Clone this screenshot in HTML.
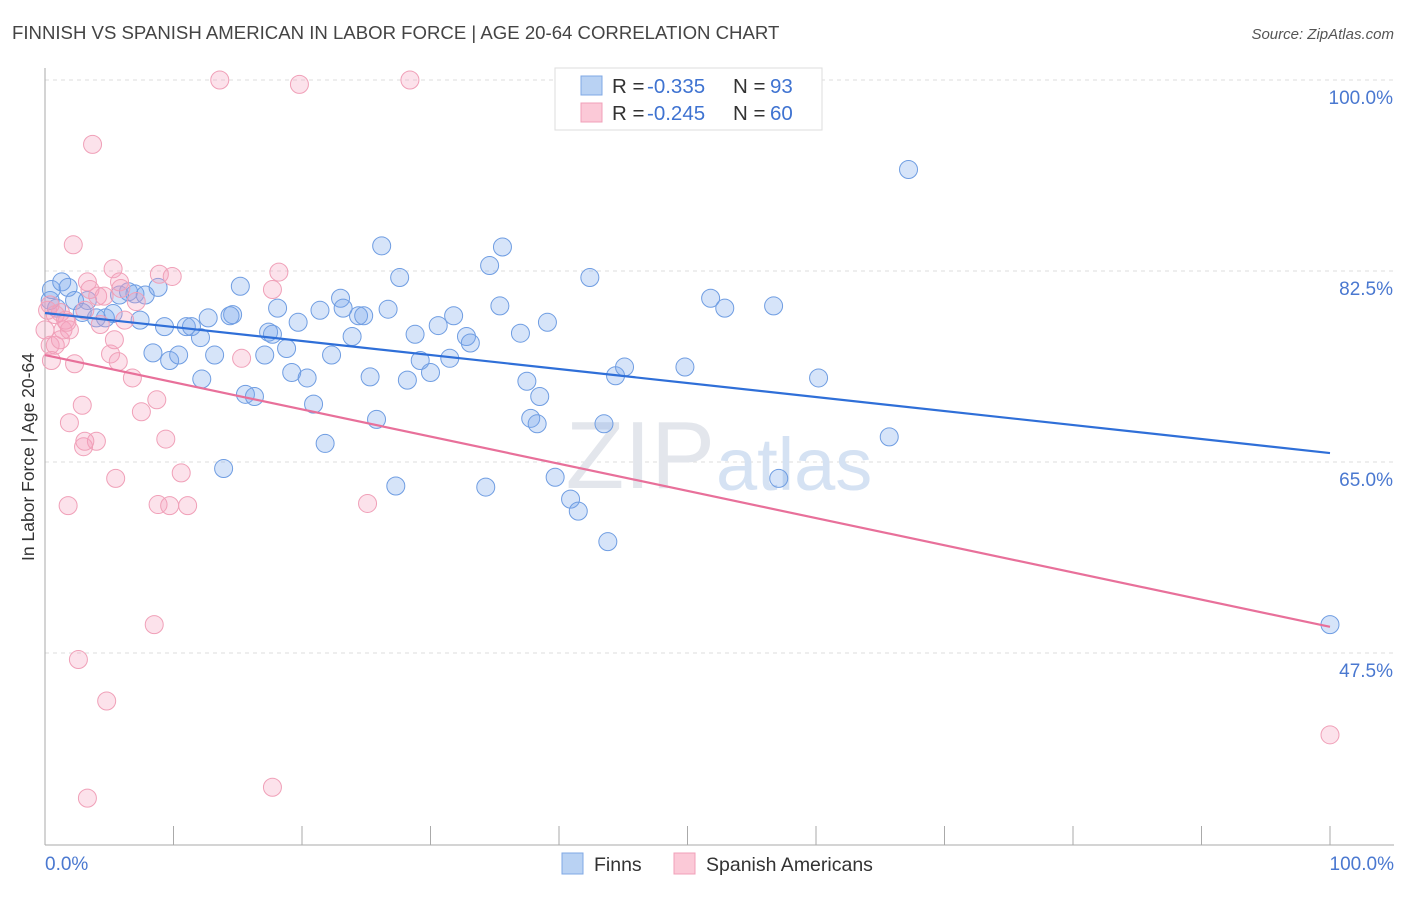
<!DOCTYPE html>
<html><head><meta charset="utf-8"><style>
body{margin:0;background:#fff;}
svg text{font-family:"Liberation Sans",sans-serif;}
</style></head><body>
<svg width="1406" height="892" xmlns="http://www.w3.org/2000/svg">
<text x="12" y="39" font-size="18.6" fill="#444">FINNISH VS SPANISH AMERICAN IN LABOR FORCE | AGE 20-64 CORRELATION CHART</text>
<text x="1394" y="39" font-size="15" fill="#555" font-style="italic" text-anchor="end">Source: ZipAtlas.com</text>
<g id="grid"></g>
<text x="715" y="488" font-size="96" fill="#e3e6ec" text-anchor="end" font-family="Liberation Serif">ZIP</text>
<text x="716" y="490" font-size="74" fill="#d5e2f3">atlas</text>
<line x1="45" y1="68" x2="45" y2="845" stroke="#aaa"/>
<line x1="45" y1="845" x2="1394" y2="845" stroke="#aaa"/>
<g id="xticks"></g>
<g id="points"></g>
<g id="lines"></g>
<text transform="translate(34,457) rotate(-90)" font-size="17.5" fill="#333" text-anchor="middle">In Labor Force | Age 20-64</text>
<text x="45" y="870" font-size="19" fill="#4a78d0">0.0%</text>
<text x="1394" y="870" font-size="19" fill="#4a78d0" text-anchor="end">100.0%</text>
<g>
<rect x="555" y="68" width="267" height="62" fill="#fff" stroke="#ddd"/>
<rect x="581" y="76" width="21" height="19" fill="#b9d2f3" stroke="#7fa8e4"/>
<text x="612" y="93" font-size="20.5" fill="#333">R = </text><text x="647" y="93" font-size="20.5" fill="#3f73d1">-0.335</text>
<text x="733" y="93" font-size="20.5" fill="#333">N = </text><text x="770" y="93" font-size="20.5" fill="#3f73d1">93</text>
<rect x="581" y="103" width="21" height="19" fill="#fbc9d7" stroke="#f0a0b8"/>
<text x="612" y="120" font-size="20.5" fill="#333">R = </text><text x="647" y="120" font-size="20.5" fill="#3f73d1">-0.245</text>
<text x="733" y="120" font-size="20.5" fill="#333">N = </text><text x="770" y="120" font-size="20.5" fill="#3f73d1">60</text>
</g>
<g>
<rect x="562" y="853" width="21" height="21" fill="#b9d2f3" stroke="#7fa8e4"/>
<text x="594" y="871" font-size="19.5" fill="#333">Finns</text>
<rect x="674" y="853" width="21" height="21" fill="#fbc9d7" stroke="#f0a0b8"/>
<text x="706" y="871" font-size="19.5" fill="#333">Spanish Americans</text>
</g>
</svg>
<script>
const yTicks=[100,82.5,65,47.5];
const yTickLabels=["100.0%","82.5%","65.0%","47.5%"];
const xTicks=[0,10,20,30,40,50,60,70,80,90,100];
const finnsX=[0.4,0.5,1.3,1.8,0.9,2.3,3.3,2.9,4.0,4.7,5.3,5.8,6.5,7.0,7.8,8.8,7.4,9.3,8.4,9.7,10.4,11.0,11.4,12.1,12.7,13.2,12.2,13.9,14.6,15.2,14.4,15.6,16.3,17.1,17.4,17.7,18.1,18.8,19.2,19.7,20.4,20.9,21.4,21.8,22.3,23.0,23.2,23.9,24.4,24.8,25.3,25.8,26.2,26.7,27.3,27.6,28.2,28.8,29.2,30.0,30.6,31.5,31.8,32.8,33.1,34.3,34.6,35.6,35.4,37.0,37.5,37.8,38.3,38.5,39.1,39.7,40.9,41.5,42.4,43.5,43.8,44.4,45.1,49.8,51.8,52.9,56.7,57.1,60.2,65.7,67.2,100,46.8];
const finnsY=[79.8,80.8,81.5,81.0,79.1,79.8,79.8,78.7,78.2,78.2,78.6,80.3,80.6,80.4,80.3,81.0,78.0,77.4,75.0,74.3,74.8,77.4,77.4,76.4,78.2,74.8,72.6,64.4,78.5,81.1,78.4,71.2,71.0,74.8,76.9,76.7,79.1,75.4,73.2,77.8,72.7,70.3,78.9,66.7,74.8,80.0,79.1,76.5,78.4,78.4,72.8,68.9,84.8,79.0,62.8,81.9,72.5,76.7,74.3,73.2,77.5,74.5,78.4,76.5,75.9,62.7,83.0,84.7,79.3,76.8,72.4,69.0,68.5,71.0,77.8,63.6,61.6,60.5,81.9,68.5,57.7,72.9,73.7,73.7,80.0,79.1,79.3,63.5,72.7,67.3,91.8,50.1,100];
const spanX=[13.6,19.8,28.4,3.7,2.2,0.2,0.4,0.8,1.2,0,0.4,0.8,0.5,1.2,1.4,1.6,1.9,1.7,2.3,3.1,3.3,3.5,4.1,4.3,5.3,5.8,5.1,5.7,5.4,6.2,6.8,7.1,8.9,9.9,7.5,8.7,2.9,1.9,3.0,4.0,3.1,5.5,9.4,10.6,1.8,8.8,9.7,11.1,15.3,17.7,18.2,25.1,8.5,2.6,4.8,3.3,17.7,100,5.9,4.6];
const spanY=[100,99.6,100,94.1,84.9,78.9,79.4,78.5,78.7,77.1,75.7,75.7,74.3,76.2,77.1,78.0,77.1,77.8,74.0,78.9,81.5,80.8,80.2,77.6,82.7,81.5,74.9,74.2,76.2,78.0,72.7,79.7,82.2,82.0,69.6,70.7,70.2,68.6,66.4,66.9,66.9,63.5,67.1,64.0,61.0,61.1,61.0,61.0,74.5,80.8,82.4,61.2,50.1,46.9,43.1,34.2,35.2,40.0,80.9,80.2];
const finnsTrend=[78.65,65.82];
const spanTrend=[74.8,49.9];
const NS="http://www.w3.org/2000/svg";
const X=v=>45+v*12.85, Y=v=>80+(100-v)*10.914;
function mk(t,a,p){const e=document.createElementNS(NS,t);for(const k in a)e.setAttribute(k,a[k]);document.getElementById(p).appendChild(e);return e;}
yTicks.forEach((v,i)=>{
 const l=mk('line',{x1:45,x2:1394,y1:Y(v),y2:Y(v),stroke:'#ddd','stroke-dasharray':'4,4'},'grid');
 
 
 const t=mk('text',{x:1393,y:Y(v)+24,'font-size':19,fill:'#4a78d0','text-anchor':'end'},'grid');
 t.textContent=yTickLabels[i];
 
 
});
xTicks.forEach(v=>{
 const l=mk('line',{x1:X(v),x2:X(v),y1:826,y2:845,stroke:'#aaa'},'xticks');
 
 
});
finnsX.forEach((v,i)=>{
 const c=mk('circle',{cx:X(v),cy:Y(finnsY[i]),r:9,fill:'rgba(120,165,235,0.3)',stroke:'#6f9de2','stroke-width':1},'points');
 
 
});
spanX.forEach((v,i)=>{
 const c=mk('circle',{cx:X(v),cy:Y(spanY[i]),r:9,fill:'rgba(245,160,190,0.3)',stroke:'#f0a0b8','stroke-width':1},'points');
 
 
});
const l1=mk('line',{x1:X(0),y1:Y(finnsTrend[0]),x2:X(100),y2:Y(finnsTrend[1]),stroke:'#2f6fd8','stroke-width':2.2},'lines');


const l2=mk('line',{x1:X(0),y1:Y(spanTrend[0]),x2:X(100),y2:Y(spanTrend[1]),stroke:'#e8709a','stroke-width':2.2},'lines');


</script>
</body></html>
